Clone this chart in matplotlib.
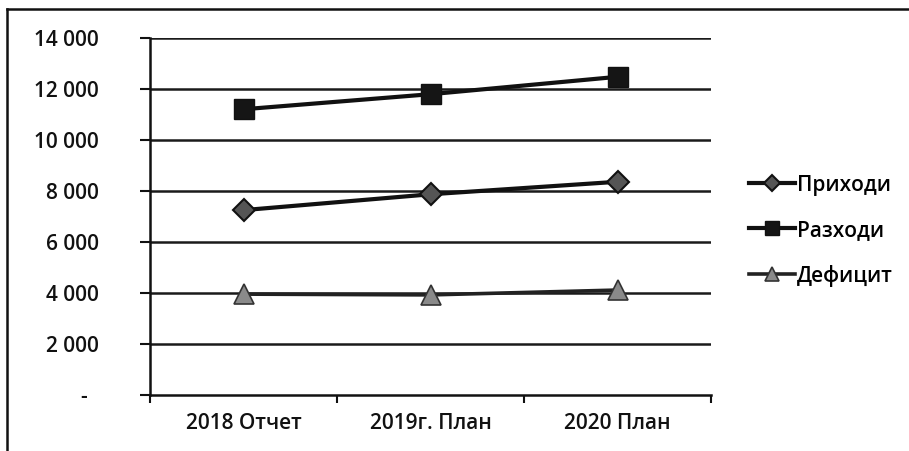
import numpy as np
import matplotlib.pyplot as plt
from matplotlib.lines import Line2D

# chart data
categories = ['2018 Отчет', '2019г. План', '2020 План']
prihodi = [7240, 7860, 8350]
razhodi = [11190, 11780, 12460]
deficit = [3950, 3920, 4110]
y_ticks = [0, 2000, 4000, 6000, 8000, 10000, 12000, 14000]
y_labels = ['-  ', '2 000', '4 000', '6 000', '8 000', '10 000', '12 000', '14 000']

plt.rcParams['font.family'] = ['Open Sans', 'DejaVu Sans']
plt.rcParams['font.weight'] = 'semibold'

fig = plt.figure(figsize=(9.09, 4.51), dpi=100)
ax = fig.add_axes([150 / 909, 1 - 395 / 451, (711 - 150) / 909, (395 - 37.5) / 451])

# outer frame (only top and left edges are inside the picture)
fig.add_artist(Line2D([7 / 909, 7 / 909], [0, 1 - 9 / 451], transform=fig.transFigure,
                      color='#111111', lw=1.8))
fig.add_artist(Line2D([7 / 909, 1], [1 - 9 / 451, 1 - 9 / 451], transform=fig.transFigure,
                      color='#111111', lw=1.8))

x = np.arange(len(categories))
ax.plot(x, razhodi, color='#111111', lw=3, marker='s', ms=14,
        mfc='#151515', mec='#111111', label='Разходи', zorder=4)
ax.plot(x, prihodi, color='#111111', lw=3, marker='D', ms=11,
        mfc='#555555', mec='#111111', mew=1.5, label='Приходи', zorder=4)
ax.plot(x, deficit, color='#222222', lw=2.6, marker='^', ms=14,
        mfc='#8a8a8a', mec='#333333', mew=1.2, label='Дефицит', zorder=4)

ax.set_xlim(-0.5, 2.5)
ax.set_ylim(0, 14000)
ax.set_yticks(y_ticks)
ax.set_yticklabels(y_labels)
ax.set_xticks(x)
ax.set_xticklabels(categories)
ax.set_xticks([-0.5, 0.5, 1.5, 2.5], minor=True)

for v in y_ticks[1:]:
    ax.axhline(v, color='#1a1a1a', lw=1.8, zorder=1)

for side in ['top', 'right']:
    ax.spines[side].set_visible(False)
ax.spines['left'].set_linewidth(1.8)
ax.spines['bottom'].set_linewidth(1.8)
ax.spines['left'].set_color('#111111')
ax.spines['bottom'].set_color('#111111')

ax.tick_params(axis='y', length=7, width=1.5, pad=30, labelsize=15, colors='#111111')
ax.tick_params(axis='x', which='major', length=0, pad=13, labelsize=15, colors='#111111')
ax.tick_params(axis='x', which='minor', length=6, width=1.5, color='#111111')

handles, labels = ax.get_legend_handles_labels()
order = [1, 0, 2]
ax.legend([handles[i] for i in order], [labels[i] for i in order],
          loc='center left', bbox_to_anchor=(1.034, 0.46), frameon=False,
          fontsize=15, handlelength=2.2, handletextpad=0.1, labelspacing=1.15,
          markerscale=0.75)

fig.savefig('out.png', dpi=100)
